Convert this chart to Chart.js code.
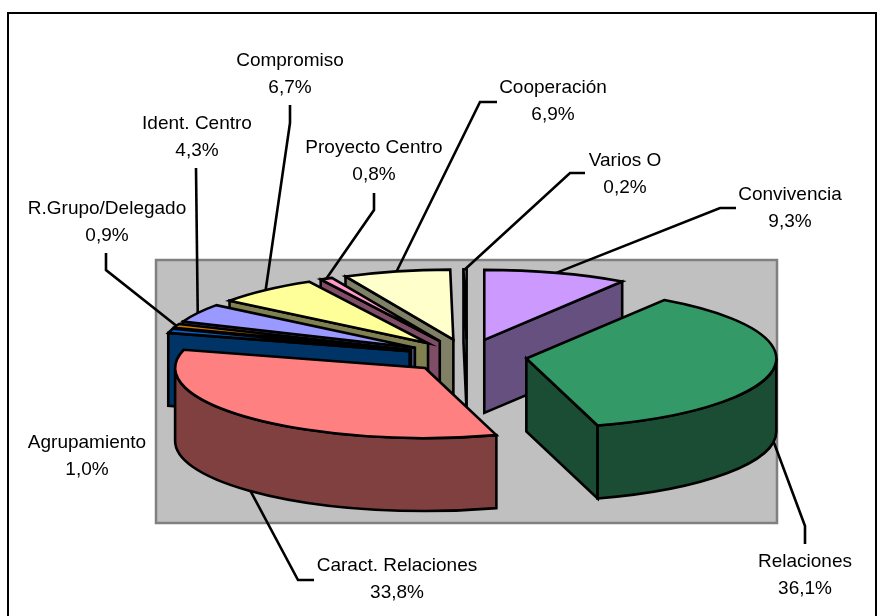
<!DOCTYPE html>
<html>
<head>
<meta charset="utf-8">
<title>Pie</title>
<script src="https://cdn.jsdelivr.net/npm/chart.js@4/dist/chart.umd.js"></script>
<style>
  html, body { margin: 0; padding: 0; background: #fff; }
  canvas { display: block; }
</style>
</head>
<body>
<canvas id="pie" width="878" height="616"></canvas>
<script>
const categories = ['Convivencia', 'Relaciones', 'Caract. Relaciones', 'Agrupamiento', 'R.Grupo/Delegado',
  'Ident. Centro', 'Compromiso', 'Proyecto Centro', 'Cooperación', 'Varios O'];
const shares = [9.3, 36.1, 33.8, 1.0, 0.9, 4.3, 6.7, 0.8, 6.9, 0.2];
const topColors = ['#CC99FF', '#339966', '#FF8080', '#0066CC', '#CC7700', '#9999FF', '#FFFF99', '#FF99CC', '#FFFFCC', '#CCFFFF'];
const sideColors = ['#665080', '#1A4D33', '#804040', '#003366', '#1A1A1A', '#4D4D80', '#808050', '#804D66', '#808066', '#667F7F'];

// back to front
const drawOrder = [9, 0, 8, 7, 6, 5, 4, 3, 1, 2];

// label centre x, first line y, then the elbow of its leader (null = no leader)
const labelX = [790, 805, 397, 87, 107, 197, 290, 374, 553, 625];
const labelY = [195, 562, 566, 443, 209, 124, 61, 148, 88, 161];
const elbows = [[720, 208], [805, 526], [298, 580], null, [106, 270], [196, 168], [290, 123], [374, 210], [480, 102], [570, 173]];
const leaderStarts = [[736, 208], [805, 544], [314, 580], null, [106, 253], [196, 168], [290, 105], [374, 193], [497, 102], [585, 173]];

const centerX = 467;
const centerY = 356;
const squash = 0.28;
const pieRadius = 250;
const explode = 60;
const depth = 73;

function sliceGeometry(arc) {
  const mid = (arc.startAngle + arc.endAngle) / 2;
  return {
    x: centerX + Math.cos(mid) * explode,
    y: centerY + Math.sin(mid) * explode * squash,
    r: arc.outerRadius,
    ry: arc.outerRadius * squash,
    mid: mid
  };
}

function rimPoint(g, angle) {
  return [g.x + Math.cos(angle) * g.r, g.y + Math.sin(angle) * g.ry];
}

function drawRadialWall(ctx, g, angle, fill) {
  const p = rimPoint(g, angle);
  ctx.beginPath();
  ctx.moveTo(g.x, g.y);
  ctx.lineTo(p[0], p[1]);
  ctx.lineTo(p[0], p[1] + depth);
  ctx.lineTo(g.x, g.y + depth);
  ctx.closePath();
  ctx.fillStyle = fill;
  ctx.fill();
  ctx.stroke();
}

function drawCurvedWall(ctx, g, start, end, fill) {
  // only the part of the rim that faces the viewer, canvas angles 0..PI
  for (const turn of [-2 * Math.PI, 0, 2 * Math.PI]) {
    const a = Math.max(start, turn);
    const b = Math.min(end, turn + Math.PI);
    if (b <= a) continue;
    const p = rimPoint(g, b);
    ctx.beginPath();
    ctx.ellipse(g.x, g.y, g.r, g.ry, 0, a, b);
    ctx.lineTo(p[0], p[1] + depth);
    ctx.ellipse(g.x, g.y + depth, g.r, g.ry, 0, b, a, true);
    ctx.closePath();
    ctx.fillStyle = fill;
    ctx.fill();
    ctx.stroke();
  }
}

const pie3d = {
  id: 'pie3d',
  beforeDraw(chart) {
    const ctx = chart.ctx;
    ctx.save();
    ctx.fillStyle = '#fff';
    ctx.fillRect(0, 0, chart.width, chart.height);
    ctx.strokeStyle = '#000';
    ctx.lineWidth = 2;
    ctx.strokeRect(8, 13, 868, 620);
    ctx.fillStyle = '#C0C0C0';
    ctx.strokeStyle = '#808080';
    ctx.lineWidth = 2.5;
    ctx.fillRect(156, 260, 621, 263);
    ctx.strokeRect(156, 260, 621, 263);
    ctx.restore();
  },
  beforeDatasetsDraw(chart) {
    const ctx = chart.ctx;
    const arcs = chart.getDatasetMeta(0).data;
    ctx.save();
    ctx.lineJoin = 'miter';
    ctx.strokeStyle = '#000';
    ctx.lineWidth = 2.6;

    drawOrder.forEach((i) => {
      const arc = arcs[i];
      const g = sliceGeometry(arc);
      const a = arc.startAngle;
      const b = arc.endAngle;

      if (Math.cos(a) < 0) drawRadialWall(ctx, g, a, sideColors[i]);
      if (Math.cos(b) > 0) drawRadialWall(ctx, g, b, sideColors[i]);
      drawCurvedWall(ctx, g, a, b, sideColors[i]);

      // top face, the library draws the sector and we squash it
      ctx.save();
      ctx.translate(g.x, g.y);
      ctx.scale(1, squash);
      ctx.translate(-arc.x, -arc.y);
      arc.draw(ctx);
      ctx.restore();

      ctx.beginPath();
      ctx.moveTo(g.x, g.y);
      ctx.ellipse(g.x, g.y, g.r, g.ry, 0, a, b);
      ctx.closePath();
      ctx.stroke();
    });

    // leaders and labels
    ctx.font = '19px "Liberation Sans", Arial, sans-serif';
    ctx.fillStyle = '#000';
    ctx.textAlign = 'center';
    ctx.textBaseline = 'middle';
    categories.forEach((name, i) => {
      if (elbows[i]) {
        const g = sliceGeometry(arcs[i]);
        const p = rimPoint(g, g.mid);
        const front = Math.sin(g.mid) > 0 ? depth : 0;
        ctx.beginPath();
        ctx.moveTo(leaderStarts[i][0], leaderStarts[i][1]);
        ctx.lineTo(elbows[i][0], elbows[i][1]);
        ctx.lineTo(p[0], p[1] + front);
        ctx.stroke();
      }
      ctx.fillText(name, labelX[i], labelY[i]);
      ctx.fillText(shares[i].toFixed(1).replace('.', ',') + '%', labelX[i], labelY[i] + 27);
    });
    ctx.restore();
    return false;
  }
};

new Chart(document.getElementById('pie'), {
  type: 'pie',
  data: {
    labels: categories,
    datasets: [{
      data: shares,
      backgroundColor: topColors,
      borderWidth: 0
    }]
  },
  options: {
    responsive: false,
    animation: false,
    radius: pieRadius,
    plugins: { legend: { display: false }, tooltip: { enabled: false } }
  },
  plugins: [pie3d]
});
</script>
</body>
</html>
